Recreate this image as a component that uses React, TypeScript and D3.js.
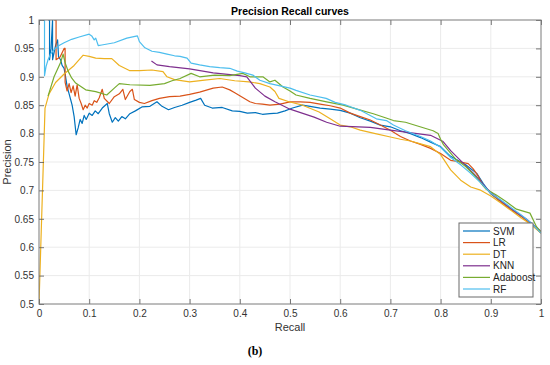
import * as d3 from 'd3';
import React, { useEffect, useRef } from 'react';

// [recall, precision] pairs
const svm: [number, number][] = [
  [0.018, 1], [0.021, 1], [0.021, 0.93], [0.024, 0.95], [0.027, 1], [0.027, 0.93], [0.033, 0.955],
  [0.037, 0.965], [0.039, 0.935], [0.043, 0.93], [0.046, 0.92], [0.05, 0.915], [0.052, 0.905],
  [0.056, 0.883], [0.06, 0.87], [0.063, 0.86], [0.066, 0.85], [0.07, 0.83], [0.074, 0.798],
  [0.078, 0.81], [0.082, 0.825], [0.086, 0.818], [0.09, 0.832], [0.094, 0.825], [0.1, 0.836],
  [0.106, 0.832], [0.112, 0.84], [0.118, 0.835], [0.126, 0.845], [0.136, 0.853], [0.14, 0.835],
  [0.146, 0.82], [0.152, 0.828], [0.158, 0.822], [0.165, 0.83], [0.172, 0.826], [0.181, 0.835],
  [0.192, 0.84], [0.205, 0.847], [0.221, 0.848], [0.235, 0.856], [0.245, 0.848], [0.258, 0.842],
  [0.27, 0.846], [0.285, 0.85], [0.3, 0.855], [0.313, 0.859], [0.322, 0.862], [0.33, 0.85],
  [0.345, 0.845], [0.365, 0.846], [0.385, 0.84], [0.4, 0.839], [0.415, 0.836], [0.431, 0.837],
  [0.445, 0.834], [0.46, 0.835], [0.475, 0.836], [0.49, 0.84], [0.505, 0.845], [0.525, 0.85],
  [0.54, 0.848], [0.56, 0.845], [0.58, 0.843], [0.6, 0.841], [0.62, 0.836], [0.64, 0.828],
  [0.66, 0.822], [0.68, 0.815], [0.7, 0.812], [0.72, 0.805], [0.74, 0.8], [0.76, 0.793],
  [0.78, 0.785], [0.8, 0.777], [0.82, 0.76], [0.85, 0.745], [0.872, 0.73], [0.885, 0.712],
  [0.9, 0.694], [0.92, 0.68], [0.94, 0.667], [0.96, 0.655], [0.98, 0.642], [1, 0.625],
];

const lr: [number, number][] = [
  [0.03, 1], [0.034, 1], [0.034, 0.93], [0.042, 0.935], [0.05, 0.95], [0.052, 0.95], [0.052, 0.89],
  [0.056, 0.875], [0.06, 0.888], [0.064, 0.872], [0.068, 0.884], [0.072, 0.866], [0.076, 0.886],
  [0.08, 0.862], [0.084, 0.853], [0.088, 0.842], [0.092, 0.85], [0.096, 0.845], [0.1, 0.853],
  [0.106, 0.85], [0.11, 0.858], [0.115, 0.855], [0.12, 0.863], [0.126, 0.878], [0.13, 0.862],
  [0.14, 0.853], [0.15, 0.865], [0.16, 0.87], [0.167, 0.878], [0.172, 0.86], [0.181, 0.874],
  [0.186, 0.878], [0.19, 0.86], [0.2, 0.855], [0.21, 0.853], [0.225, 0.858], [0.24, 0.862],
  [0.26, 0.865], [0.281, 0.866], [0.3, 0.869], [0.32, 0.873], [0.347, 0.88], [0.365, 0.882],
  [0.38, 0.877], [0.39, 0.872], [0.405, 0.864], [0.42, 0.856], [0.431, 0.853], [0.445, 0.852],
  [0.46, 0.85], [0.48, 0.852], [0.5, 0.856], [0.52, 0.856], [0.54, 0.855], [0.56, 0.852],
  [0.58, 0.849], [0.6, 0.845], [0.62, 0.836], [0.64, 0.83], [0.66, 0.824], [0.68, 0.815],
  [0.7, 0.806], [0.72, 0.795], [0.74, 0.787], [0.76, 0.781], [0.78, 0.774], [0.8, 0.765],
  [0.82, 0.753], [0.84, 0.75], [0.855, 0.747], [0.865, 0.738], [0.875, 0.725], [0.885, 0.708],
  [0.9, 0.695], [0.92, 0.68], [0.94, 0.667], [0.96, 0.655], [0.98, 0.641], [1, 0.625],
];

const dt: [number, number][] = [
  [0, 0.5], [0.012, 0.845], [0.02, 0.87], [0.033, 0.89], [0.05, 0.905], [0.07, 0.92],
  [0.088, 0.938], [0.1, 0.936], [0.113, 0.933], [0.13, 0.932], [0.145, 0.932], [0.16, 0.92],
  [0.18, 0.911], [0.2, 0.911], [0.225, 0.912], [0.247, 0.909], [0.255, 0.9], [0.27, 0.895],
  [0.3, 0.891], [0.33, 0.894], [0.36, 0.897], [0.39, 0.893], [0.418, 0.891], [0.44, 0.888],
  [0.46, 0.882], [0.47, 0.874], [0.478, 0.862], [0.498, 0.856], [0.525, 0.85], [0.558, 0.838],
  [0.58, 0.826], [0.6, 0.815], [0.62, 0.812], [0.64, 0.806], [0.67, 0.8], [0.7, 0.794],
  [0.72, 0.79], [0.74, 0.787], [0.76, 0.782], [0.78, 0.777], [0.8, 0.763], [0.82, 0.736],
  [0.84, 0.718], [0.86, 0.706], [0.878, 0.701], [0.9, 0.69], [0.92, 0.678], [0.94, 0.665],
  [0.96, 0.652], [0.98, 0.64], [1, 0.625],
];

const knn: [number, number][] = [
  [0.224, 0.928], [0.235, 0.921], [0.26, 0.918], [0.3, 0.914], [0.347, 0.907], [0.4, 0.902],
  [0.414, 0.9], [0.431, 0.88], [0.45, 0.866], [0.47, 0.856], [0.5, 0.843], [0.548, 0.829],
  [0.573, 0.82], [0.6, 0.813], [0.66, 0.811], [0.7, 0.806], [0.78, 0.797], [0.805, 0.786],
  [0.82, 0.77], [0.845, 0.748], [0.872, 0.724], [0.891, 0.704], [0.92, 0.682], [0.945, 0.665],
  [0.97, 0.65], [1, 0.628],
];

const adaboost: [number, number][] = [
  [0.018, 0.866], [0.03, 0.9], [0.043, 0.925], [0.048, 0.94], [0.052, 0.925], [0.058, 0.91],
  [0.065, 0.898], [0.073, 0.889], [0.093, 0.877], [0.113, 0.874], [0.135, 0.868], [0.15, 0.88],
  [0.16, 0.888], [0.181, 0.886], [0.221, 0.885], [0.25, 0.888], [0.265, 0.893], [0.281, 0.897],
  [0.303, 0.906], [0.32, 0.9], [0.35, 0.903], [0.38, 0.902], [0.406, 0.906], [0.42, 0.9],
  [0.446, 0.9], [0.46, 0.891], [0.47, 0.894], [0.486, 0.882], [0.5, 0.875], [0.512, 0.868],
  [0.54, 0.862], [0.573, 0.856], [0.606, 0.85], [0.63, 0.844], [0.666, 0.835], [0.69, 0.828],
  [0.706, 0.823], [0.73, 0.82], [0.759, 0.812], [0.785, 0.805], [0.795, 0.8], [0.8, 0.79],
  [0.806, 0.78], [0.83, 0.755], [0.85, 0.742], [0.87, 0.724], [0.891, 0.702], [0.911, 0.692],
  [0.931, 0.68], [0.951, 0.667], [0.978, 0.66], [0.991, 0.636], [1, 0.627],
];

const rf: [number, number][] = [
  [0.008, 1], [0.011, 1], [0.011, 0.902], [0.014, 0.918], [0.018, 0.93], [0.023, 0.94],
  [0.03, 0.948], [0.04, 0.955], [0.05, 0.96], [0.065, 0.966], [0.08, 0.97], [0.1, 0.975],
  [0.105, 0.972], [0.11, 0.965], [0.113, 0.968], [0.118, 0.955], [0.125, 0.956], [0.15, 0.96],
  [0.175, 0.968], [0.196, 0.972], [0.2, 0.962], [0.207, 0.955], [0.211, 0.951], [0.225, 0.945],
  [0.24, 0.943], [0.255, 0.94], [0.27, 0.937], [0.281, 0.936], [0.295, 0.933], [0.303, 0.924],
  [0.32, 0.921], [0.34, 0.918], [0.36, 0.916], [0.38, 0.915], [0.395, 0.91], [0.41, 0.907],
  [0.426, 0.903], [0.44, 0.894], [0.46, 0.888], [0.48, 0.884], [0.5, 0.88], [0.512, 0.876],
  [0.54, 0.868], [0.572, 0.862], [0.59, 0.855], [0.612, 0.85], [0.64, 0.841], [0.672, 0.826],
  [0.692, 0.823], [0.706, 0.815], [0.73, 0.805], [0.76, 0.795], [0.78, 0.787], [0.8, 0.776],
  [0.82, 0.758], [0.84, 0.745], [0.86, 0.73], [0.878, 0.715], [0.9, 0.695], [0.92, 0.683],
  [0.94, 0.67], [0.96, 0.657], [0.98, 0.643], [1, 0.625],
];

const seriesNames = ['SVM', 'LR', 'DT', 'KNN', 'Adaboost', 'RF'];
const seriesData = [svm, lr, dt, knn, adaboost, rf];
const seriesColors = ['#0072BD', '#D95319', '#EDB120', '#7E2F8E', '#77AC30', '#4DBEEE'];

const xTicks = d3.range(0, 11).map(i => i / 10);
const yTicks = d3.range(0, 11).map(i => 0.5 + i * 0.05);

const FONT = '"Liberation Sans", Arial, Helvetica, sans-serif';

const App: React.FC = () => {
  const svgRef = useRef<SVGSVGElement>(null);
  const width = 550;
  const height = 365;

  useEffect(() => {
    if (!svgRef.current) return;
    const svg = d3.select(svgRef.current);
    svg.selectAll('*').remove();

    const margin = { top: 20, right: 9, bottom: 61, left: 39 };
    const innerWidth = width - margin.left - margin.right;
    const innerHeight = height - margin.top - margin.bottom;

    const x = d3.scaleLinear().domain([0, 1]).range([0, innerWidth]);
    const y = d3.scaleLinear().domain([0.5, 1]).range([innerHeight, 0]);

    svg.append('rect').attr('width', width).attr('height', height).attr('fill', '#fff');

    const g = svg.append('g').attr('transform', `translate(${margin.left}, ${margin.top})`);

    svg.append('defs').append('clipPath').attr('id', 'plot-clip')
      .append('rect').attr('width', innerWidth).attr('height', innerHeight);

    // grid
    g.append('g').selectAll('line').data(xTicks.slice(1, -1)).join('line')
      .attr('x1', d => x(d)).attr('x2', d => x(d))
      .attr('y1', 0).attr('y2', innerHeight)
      .attr('stroke', '#ebebeb').attr('stroke-width', 1);
    g.append('g').selectAll('line').data(yTicks.slice(1, -1)).join('line')
      .attr('x1', 0).attr('x2', innerWidth)
      .attr('y1', d => y(d)).attr('y2', d => y(d))
      .attr('stroke', '#ebebeb').attr('stroke-width', 1);

    // curves
    const line = d3.line<[number, number]>().x(d => x(d[0])).y(d => y(d[1]));
    const curves = g.append('g').attr('clip-path', 'url(#plot-clip)');
    seriesData.forEach((data, i) => {
      curves.append('path')
        .attr('d', line(data) || '')
        .attr('fill', 'none')
        .attr('stroke', seriesColors[i])
        .attr('stroke-width', 1.2)
        .attr('stroke-linejoin', 'round');
    });

    // axes
    const styleAxis = (sel: d3.Selection<SVGGElement, unknown, null, undefined>) => {
      sel.select('.domain').remove();
      sel.selectAll('.tick line').attr('stroke', '#555').attr('stroke-width', 0.8);
      sel.selectAll('.tick text').attr('fill', '#333').attr('font-size', '10px').attr('font-family', FONT);
    };

    g.append('g').attr('transform', `translate(0, ${innerHeight})`)
      .call(d3.axisBottom(x).tickValues(xTicks).tickSize(-5).tickPadding(6).tickFormat(d => d3.format('')(+d)))
      .call(styleAxis);
    g.append('g')
      .call(d3.axisLeft(y).tickValues(yTicks).tickSize(-5).tickPadding(5).tickFormat(d => d3.format('')(+d)))
      .call(styleAxis);
    g.append('g')
      .call(d3.axisTop(x).tickValues(xTicks).tickSize(-5).tickFormat(() => ''))
      .call(styleAxis);
    g.append('g').attr('transform', `translate(${innerWidth}, 0)`)
      .call(d3.axisRight(y).tickValues(yTicks).tickSize(-5).tickFormat(() => ''))
      .call(styleAxis);

    g.append('rect')
      .attr('width', innerWidth).attr('height', innerHeight)
      .attr('fill', 'none').attr('stroke', '#7a7a7a').attr('stroke-width', 1);

    // legend
    const legend = g.append('g').attr('transform', `translate(${innerWidth - 82}, ${innerHeight - 81})`);
    legend.append('rect')
      .attr('width', 74).attr('height', 74)
      .attr('fill', '#fff').attr('stroke', '#6a6a6a').attr('stroke-width', 1);
    seriesNames.forEach((name, i) => {
      const row = legend.append('g').attr('transform', `translate(0, ${8 + i * 11.6})`);
      row.append('line')
        .attr('x1', 4).attr('x2', 31).attr('y1', 0).attr('y2', 0)
        .attr('stroke', seriesColors[i]).attr('stroke-width', 1.2);
      row.append('text')
        .attr('x', 34).attr('y', 0).attr('dy', '0.35em')
        .attr('font-size', '10px').attr('font-family', FONT).attr('fill', '#222')
        .text(name);
    });

    // title and labels
    svg.append('text')
      .attr('x', margin.left + innerWidth / 2).attr('y', 15)
      .attr('text-anchor', 'middle').attr('font-size', '10.5px').attr('font-weight', 'bold')
      .attr('font-family', FONT).attr('fill', '#000')
      .text('Precision Recall curves');

    svg.append('text')
      .attr('x', margin.left + innerWidth / 2).attr('y', 331)
      .attr('text-anchor', 'middle').attr('font-size', '11px')
      .attr('font-family', FONT).attr('fill', '#333')
      .text('Recall');

    svg.append('text')
      .attr('transform', `translate(11, ${margin.top + innerHeight / 2}) rotate(-90)`)
      .attr('text-anchor', 'middle').attr('font-size', '11px')
      .attr('font-family', FONT).attr('fill', '#333')
      .text('Precision');

    svg.append('text')
      .attr('x', 255).attr('y', 355)
      .attr('text-anchor', 'middle').attr('font-size', '12px').attr('font-weight', 'bold')
      .attr('font-family', '"Liberation Serif", "Times New Roman", serif').attr('fill', '#000')
      .text('(b)');
  }, []);

  return (
    <svg
      ref={svgRef}
      width={width}
      height={height}
      style={{ position: 'absolute', left: 0, top: 0, display: 'block' }}
    />
  );
};

export default App;
